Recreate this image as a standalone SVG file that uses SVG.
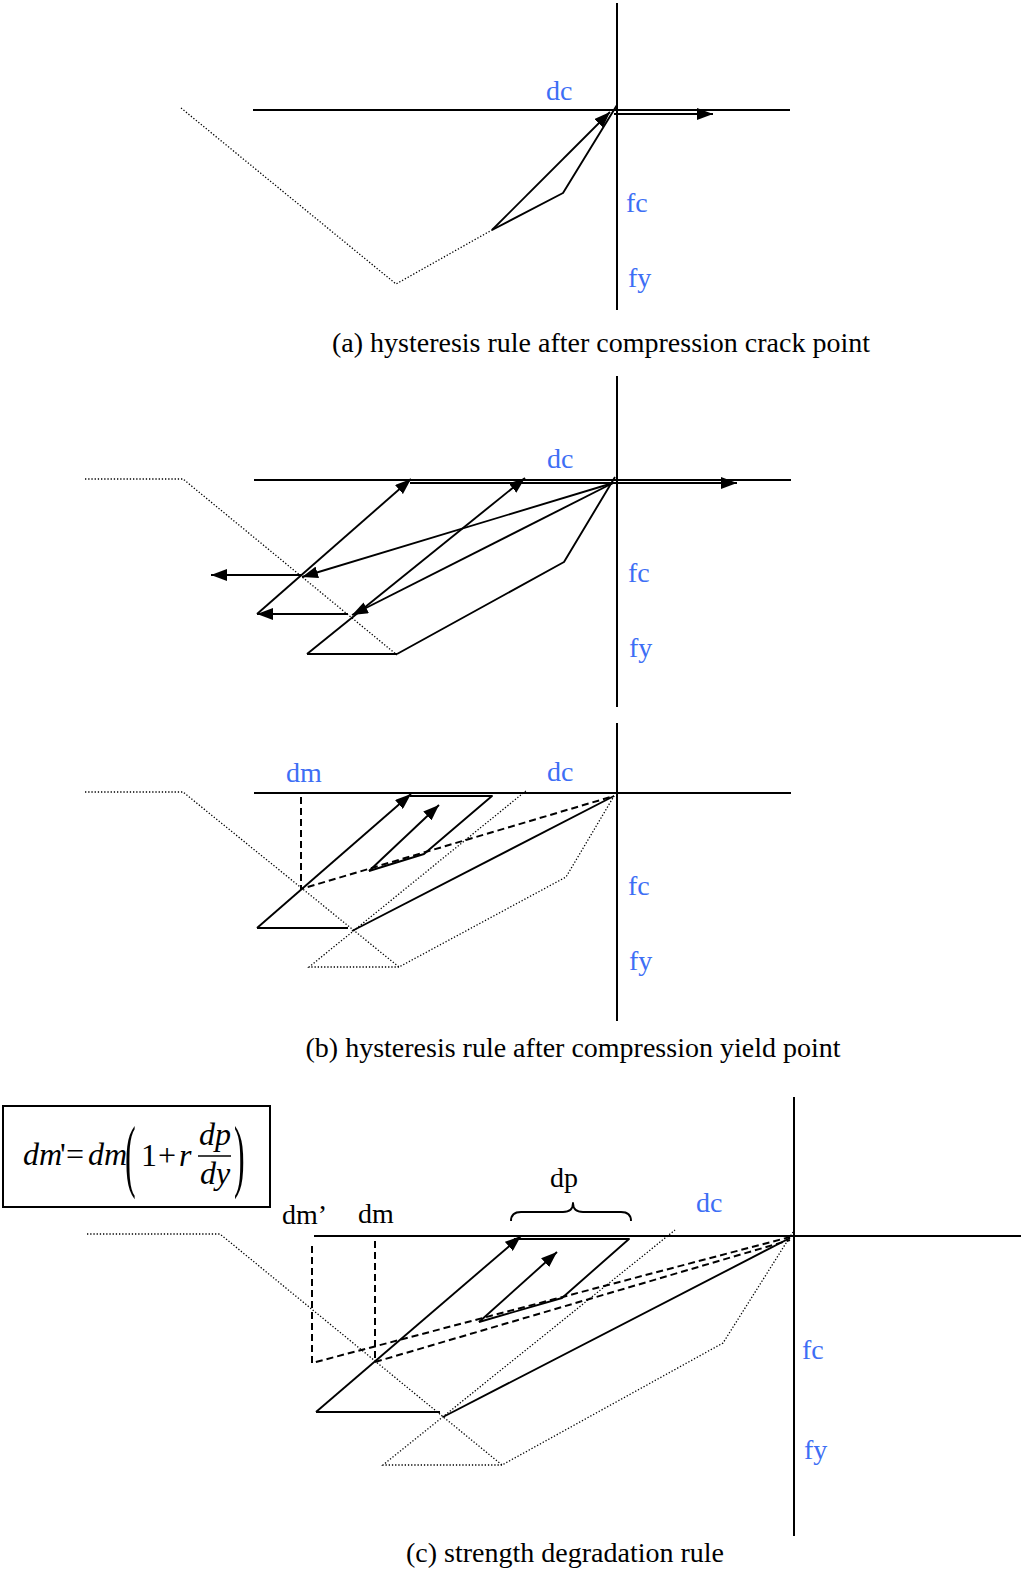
<svg xmlns="http://www.w3.org/2000/svg" width="1024" height="1573" viewBox="0 0 1024 1573">
<style>
.ax{stroke:#000;stroke-width:2;fill:none}
.s{stroke:#000;stroke-width:1.9;fill:none;stroke-linejoin:round}
.dot{stroke:#000;stroke-width:1.3;fill:none;stroke-dasharray:1.3 1.9}
.dash{stroke:#000;stroke-width:2;fill:none;stroke-dasharray:7 4}
.arr{marker-end:url(#ah)}
.lb{font-family:"Liberation Serif","Times New Roman",serif;font-size:28px;fill:#3d6ef5}
.lk{font-family:"Liberation Serif","Times New Roman",serif;font-size:28px;fill:#000}
.cap{font-family:"Liberation Serif","Times New Roman",serif;font-size:28px;fill:#000;text-anchor:middle}
.m{font-family:"Liberation Serif","Times New Roman",serif;font-size:32px;fill:#000}
.mi{font-style:italic}
</style>
<defs>
<marker id="ah" viewBox="0 0 16 12" refX="16" refY="6" markerWidth="16" markerHeight="12" markerUnits="userSpaceOnUse" orient="auto">
<path d="M0,0 L16,6 L0,12 z" fill="#000"/>
</marker>
</defs>

<!-- Panel (a) -->
<g id="panel-a">
  <g id="a-axes">
    <line class="ax" x1="617" y1="3" x2="617" y2="310"/>
    <line class="ax" x1="253" y1="110" x2="790" y2="110"/>
  </g>
  <g id="a-connectors">
    <polyline class="dot" points="181,108 396,284 492,230"/>
    <line class="s arr" x1="492" y1="230" x2="610" y2="112"/>
    <polyline class="s" points="492,230 563,193 617,105"/>
    <line class="s arr" x1="614" y1="114" x2="713" y2="114"/>
  </g>
  <g id="a-labels">
    <text class="lb" x="546" y="100">dc</text>
    <text class="lb" x="626" y="212">fc</text>
    <text class="lb" x="628" y="287">fy</text>
  </g>
  <text class="cap" x="601" y="352">(a) hysteresis rule after compression crack point</text>
</g>

<!-- Panel (b) upper -->
<g id="panel-b1">
  <g id="b1-axes">
    <line class="ax" x1="617" y1="376" x2="617" y2="707"/>
    <line class="ax" x1="254" y1="480" x2="791" y2="480"/>
  </g>
  <g id="b1-connectors">
    <polyline class="dot" points="85,479 183,479 397,655"/>
    <line class="s" x1="307" y1="654" x2="397" y2="654"/>
    <polyline class="s" points="397,654 564,562 615,477"/>
    <line class="s arr" x1="307" y1="654" x2="525" y2="478"/>
    <line class="s arr" x1="613" y1="483" x2="352" y2="615"/>
    <line class="s arr" x1="348" y1="614" x2="257" y2="614"/>
    <line class="s arr" x1="257" y1="614" x2="411" y2="479"/>
    <line class="s arr" x1="613" y1="483" x2="302" y2="577"/>
    <line class="s arr" x1="302" y1="575" x2="211" y2="575"/>
    <line class="s arr" x1="410" y1="483" x2="737" y2="483"/>
  </g>
  <g id="b1-labels">
    <text class="lb" x="547" y="468">dc</text>
    <text class="lb" x="628" y="582">fc</text>
    <text class="lb" x="629" y="657">fy</text>
  </g>
</g>

<!-- Panel (b) lower -->
<g id="panel-b2">
  <g id="b2-axes">
    <line class="ax" x1="617" y1="723" x2="617" y2="1021"/>
    <line class="ax" x1="254" y1="793" x2="791" y2="793"/>
  </g>
  <g id="b2-connectors">
    <polyline class="dot" points="85,792 183,792 399,967 566,877 614,796"/>
    <polyline class="dot" points="399,967 309,967 527,790"/>
    <line class="s" x1="257" y1="928" x2="348" y2="928"/>
    <line class="s arr" x1="257" y1="928" x2="411" y2="794"/>
    <polyline class="s" points="410,796 492,796 424,854 369,871"/>
    <line class="s arr" x1="369" y1="871" x2="439" y2="805"/>
    <line class="s" x1="352" y1="931" x2="614" y2="796"/>
    <polyline class="dash" points="301,797 301,889 614,796"/>
  </g>
  <g id="b2-labels">
    <text class="lb" x="286" y="782">dm</text>
    <text class="lb" x="547" y="781">dc</text>
    <text class="lb" x="628" y="895">fc</text>
    <text class="lb" x="629" y="970">fy</text>
  </g>
  <text class="cap" x="573" y="1057">(b) hysteresis rule after compression yield point</text>
</g>

<!-- Panel (c) -->
<g id="panel-c">
  <g id="formula-box">
    <rect x="3" y="1106" width="267" height="101" fill="none" stroke="#000" stroke-width="2"/>
    <text class="m mi" x="23" y="1165">dm</text>
    <text class="m" x="60" y="1165">'</text>
    <text class="m" x="66" y="1165">=</text>
    <text class="m mi" x="88" y="1165">dm</text>
    <text class="m" x="0" y="0" transform="translate(125,1182) scale(1,2.5)">(</text>
    <text class="m" x="141" y="1166">1</text>
    <text class="m" x="158" y="1166">+</text>
    <text class="m mi" x="179" y="1166">r</text>
    <line x1="198" y1="1156" x2="231" y2="1156" stroke="#000" stroke-width="1.5"/>
    <text class="m mi" x="199" y="1145">dp</text>
    <text class="m mi" x="200" y="1184">dy</text>
    <text class="m" x="0" y="0" transform="translate(234,1182) scale(1,2.5)">)</text>
  </g>
  <g id="c-axes">
    <line class="ax" x1="794" y1="1097" x2="794" y2="1536"/>
    <line class="ax" x1="314" y1="1236" x2="1021" y2="1236"/>
  </g>
  <g id="c-connectors">
    <polyline class="dot" points="87,1234 220,1234 502,1465 723,1343 793,1232"/>
    <polyline class="dot" points="502,1465 383,1465 675,1230"/>
    <line class="s" x1="316" y1="1412" x2="440" y2="1412"/>
    <line class="s arr" x1="316" y1="1412" x2="521" y2="1236"/>
    <polyline class="s" points="514,1239 629,1239 562,1298 479,1322"/>
    <line class="s arr" x1="479" y1="1322" x2="557" y2="1252"/>
    <line class="s" x1="443" y1="1417" x2="790" y2="1238"/>
    <polyline class="dash" points="312,1246 312,1363 790,1237"/>
    <polyline class="dash" points="375,1241 375,1362 790,1240"/>
    <path class="s" d="M511,1221 Q511,1212 521,1212 L563,1212 Q573,1212 573,1203 Q573,1212 583,1212 L621,1212 Q631,1212 631,1221"/>
  </g>
  <g id="c-labels">
    <text class="lk" x="550" y="1187">dp</text>
    <text class="lk" x="282" y="1224">dm’</text>
    <text class="lk" x="358" y="1223">dm</text>
    <text class="lb" x="696" y="1212">dc</text>
    <text class="lb" x="802" y="1359">fc</text>
    <text class="lb" x="804" y="1459">fy</text>
  </g>
  <text class="cap" x="565" y="1562">(c) strength degradation rule</text>
</g>
</svg>
